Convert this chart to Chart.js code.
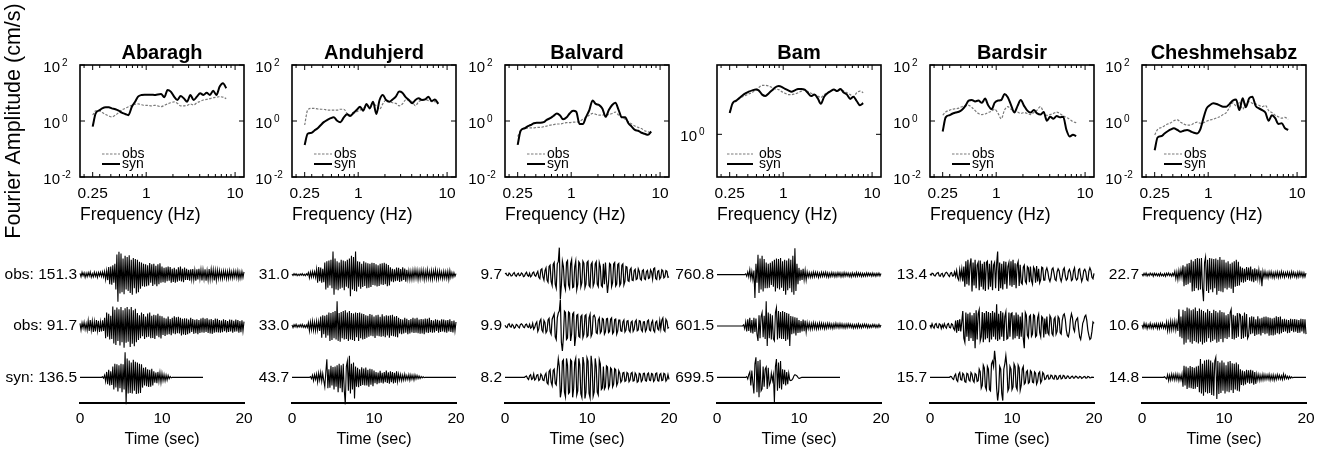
<!DOCTYPE html>
<html>
<head>
<meta charset="utf-8">
<title>Fourier spectra and seismograms</title>
<script src="https://cdn.jsdelivr.net/npm/chart.js@4.4.1/dist/chart.umd.min.js"></script>
<style>
html, body { margin: 0; padding: 0; background: #fff; }
#fig { position: relative; width: 1323px; height: 452px; overflow: hidden; background: #fff; }
#fig canvas { position: absolute; }
</style>
</head>
<body>
<div id="fig"></div>
<script>
// ---------------- DATA ----------------
const stations = ['Abaragh', 'Anduhjerd', 'Balvard', 'Bam', 'Bardsir', 'Cheshmehsabz'];

// Fourier spectra, frequency (Hz) and amplitude (cm/s)
const freqHz = [0.25,0.27,0.30,0.32,0.35,0.38,0.41,0.45,0.49,0.53,0.58,0.63,0.69,0.75,0.81,0.89,0.96,1.05,1.14,1.24,1.35,1.47,1.60,1.74,1.89,2.06,2.24,2.44,2.65,2.89,3.14,3.42,3.72,4.05,4.40,4.79,5.21,5.67,6.17,6.71,7.31,7.95];
const freqTickLabels = [0.25, 1, 10];
const freqMinorTicks = [0.2,0.3,0.4,0.5,0.6,0.7,0.8,0.9,2,3,4,5,6,7,8,9];
const ampTicks = [0.01, 1, 100];
const ampTicksBam = [1];

const synSpecAbaragh = [0.63,1.86,2.45,2.82,3.09,3.09,2.82,2.63,2.34,2.0,1.78,1.62,3.24,4.90,7.41,8.51,8.71,8.71,8.71,8.51,8.91,9.12,7.08,12.9,11.2,7.41,5.62,7.76,6.46,4.90,8.51,5.62,7.41,9.77,8.51,10.2,8.51,12.0,8.51,17.0,22.4,14.8];
const obsSpecAbaragh = [1.62,2.29,2.29,2.0,1.70,1.51,1.41,1.62,2.0,2.45,2.82,3.24,3.63,3.98,4.07,3.80,3.63,3.63,3.47,3.63,3.47,3.24,3.63,4.07,4.47,4.79,4.27,3.47,3.47,3.63,4.07,3.72,4.47,5.01,5.62,5.89,6.31,6.76,7.08,7.41,7.08,6.31];
const synSpecAnduhjerd = [0.14,0.35,0.38,0.45,0.55,0.72,0.91,1.10,1.26,1.35,1.02,0.91,1.35,1.74,1.51,2.0,2.45,3.24,2.34,4.07,2.82,4.90,1.78,5.62,8.51,5.62,4.90,5.89,7.41,11.2,10.2,7.08,5.62,4.27,5.62,6.46,5.62,5.89,7.41,5.13,5.89,4.07];
const obsSpecAnduhjerd = [0.72,2.45,2.82,2.82,2.69,2.63,2.63,2.45,2.45,2.45,2.45,2.63,2.63,1.86,1.62,1.86,2.14,2.45,2.82,3.24,3.47,4.07,3.47,2.63,4.07,5.62,4.90,4.47,4.27,3.47,4.07,5.62,5.37,4.90,3.47,4.90,5.62,5.89,5.37,4.90,4.90,4.47];
const synSpecBalvard = [0.14,0.45,0.55,0.63,0.72,0.83,0.87,0.87,0.91,1.10,1.26,1.51,1.86,1.58,1.15,1.35,1.86,2.34,2.14,0.78,0.78,1.41,2.45,5.37,4.07,3.72,2.82,1.41,2.45,3.72,4.47,2.45,1.35,1.35,0.83,0.63,0.48,0.45,0.38,0.35,0.32,0.42];
const obsSpecBalvard = [0.28,0.45,0.54,0.56,0.57,0.57,0.59,0.59,0.63,0.66,0.71,0.74,0.78,0.78,0.83,0.87,0.87,0.91,0.91,0.98,1.15,1.35,1.62,1.86,1.74,1.62,1.62,1.74,1.70,1.86,2.09,1.62,1.35,1.15,0.95,0.78,0.66,0.59,0.54,0.45,0.41,0.38];
const synSpecBam = [2.0,2.75,3.02,3.24,3.55,3.80,4.0,4.17,4.27,4.17,3.63,3.47,3.80,4.17,4.57,4.79,4.68,4.37,4.17,4.0,4.17,4.37,4.37,4.27,3.85,3.47,3.63,3.24,2.69,3.39,3.80,4.07,4.27,4.07,4.37,3.89,3.63,3.16,3.39,2.95,2.57,2.75];
const obsSpecBam = [2.04,2.69,2.95,3.16,3.39,3.55,3.72,3.89,4.27,4.57,4.90,4.90,4.79,4.57,4.37,4.27,4.0,3.80,3.63,3.63,3.72,3.85,4.07,4.27,4.0,3.80,3.63,3.47,3.31,3.63,3.85,4.07,4.27,4.07,4.27,4.07,3.85,3.63,3.39,3.85,4.07,3.85];
const synSpecBardsir = [0.42,1.35,1.62,1.82,2.0,2.14,2.45,3.47,5.37,5.62,5.01,5.37,4.47,6.31,3.72,2.63,4.47,5.37,5.62,9.12,7.08,3.72,2.0,3.47,5.62,3.47,2.34,2.0,2.45,1.86,1.70,2.09,1.02,1.41,1.20,1.51,1.35,1.41,0.48,0.28,0.32,0.29];
const obsSpecBardsir = [1.62,2.09,2.45,2.63,2.75,2.88,3.24,3.47,3.63,3.09,2.34,1.86,1.70,1.78,2.0,2.24,2.63,1.86,1.20,2.45,3.24,2.63,2.24,2.09,1.86,2.0,1.86,1.70,2.0,2.45,3.24,2.09,1.58,1.70,1.86,2.09,1.86,1.51,1.35,1.15,0.95,0.87];
const synSpecCheshmehsabz = [0.09,0.26,0.29,0.35,0.43,0.50,0.55,0.48,0.41,0.45,0.48,0.43,0.38,0.36,0.48,1.35,2.82,3.72,4.27,4.07,3.63,3.24,3.24,4.07,5.37,5.89,2.45,6.46,3.09,6.46,7.41,3.47,2.82,2.45,2.0,1.02,1.62,1.26,0.78,0.83,0.55,0.48];
const obsSpecCheshmehsabz = [0.32,0.50,0.59,0.66,0.78,0.87,1.02,1.10,0.91,0.78,0.71,0.71,0.83,0.91,0.83,0.87,0.98,1.10,1.15,1.29,1.41,1.70,2.0,3.09,4.47,3.47,4.79,2.63,4.07,4.90,4.27,4.07,3.63,3.24,3.63,2.34,2.0,1.62,1.41,1.26,1.35,1.15];

// Seismograms: sample times (s, every 0.125 s) and amplitude normalised to the trace peak (% of peak)
const timeSec = [0,0.125,0.25,0.375,0.5,0.625,0.75,0.875,1,1.125,1.25,1.375,1.5,1.625,1.75,1.875,2,2.125,2.25,2.375,2.5,2.625,2.75,2.875,3,3.125,3.25,3.375,3.5,3.625,3.75,3.875,4,4.125,4.25,4.375,4.5,4.625,4.75,4.875,5,5.125,5.25,5.375,5.5,5.625,5.75,5.875,6,6.125,6.25,6.375,6.5,6.625,6.75,6.875,7,7.125,7.25,7.375,7.5,7.625,7.75,7.875,8,8.125,8.25,8.375,8.5,8.625,8.75,8.875,9,9.125,9.25,9.375,9.5,9.625,9.75,9.875,10,10.125,10.25,10.375,10.5,10.625,10.75,10.875,11,11.125,11.25,11.375,11.5,11.625,11.75,11.875,12,12.125,12.25,12.375,12.5,12.625,12.75,12.875,13,13.125,13.25,13.375,13.5,13.625,13.75,13.875,14,14.125,14.25,14.375,14.5,14.625,14.75,14.875,15,15.125,15.25,15.375,15.5,15.625,15.75,15.875,16,16.125,16.25,16.375,16.5,16.625,16.75,16.875,17,17.125,17.25,17.375,17.5,17.625,17.75,17.875,18,18.125,18.25,18.375,18.5,18.625,18.75,18.875,19,19.125,19.25,19.375,19.5,19.625,19.75,19.875,20];
const timeTicks = [0, 10, 20];

const peakObs1 = [151.3, 31.0, 9.7, 760.8, 13.4, 22.7];
const peakObs2 = [91.7, 33.0, 9.9, 601.5, 10.0, 10.6];
const peakSyn  = [136.5, 43.7, 8.2, 699.5, 15.7, 14.8];

const obs1Abaragh = [
5,-8,9,-4,7,-10,6,-7, 8,-5,10,-9,4,-8,9,-6, 7,-10,8,-5,9,-7,10,-8,
12,-18,15,-20,28,-35,30,-37, 35,-30,40,-55,75,-100,85,-70, 78,-65,60,-72,70,-55,65,-60,
72,-68,55,-74,62,-50,58,-70, 55,-65,48,-52,45,-43,40,-45, 38,-43,35,-40,43,-30,38,-42,
40,-36,33,-43,38,-35,42,-30, 30,-28,25,-30,27,-24,30,-22, 28,-30,22,-27,25,-30,20,-26,
27,-22,30,-25,22,-28,26,-20, 22,-20,18,-22,20,-17,21,-19, 16,-22,20,-18,22,-15,19,-21,
18,-16,20,-22,15,-19,21,-17, 20,-15,18,-21,16,-20,17,-14, 15,-14,12,-15,14,-11,13,-15,
12,-14,15,-12,11,-13,14,-10, 13,-12,14,-15,10,-13,12,-11, 10];
const obs2Abaragh = [
10,-15,12,-8,14,-12,9,-15, 20,-18,22,-15,18,-22,16,-20, 22,-17,19,-22,15,-20,21,-18,
30,-45,50,-40,45,-50,38,-48, 72,-65,60,-70,68,-55,62,-72, 70,-60,58,-80,66,-62,70,-58,
62,-78,70,-66,58,-75,64,-60, 48,-52,40,-45,50,-38,44,-48, 35,-42,46,-40,50,-45,38,-44,
42,-48,40,-36,45,-42,38,-46, 36,-33,30,-37,28,-32,35,-30, 26,-34,30,-28,36,-30,32,-27,
34,-28,30,-35,27,-31,29,-33, 28,-30,24,-27,30,-22,26,-29, 23,-27,25,-30,22,-26,28,-24,
30,-25,27,-22,29,-26,24,-28, 26,-29,22,-25,28,-23,27,-24, 22,-25,20,-23,25,-19,22,-24,
18,-22,24,-20,23,-25,19,-21, 24,-20,22,-25,18,-23,21,-19, 16];
const synAbaragh = [
0,0,0,0,0,0,0,0, 0,0,0,0,0,0,0,0, 0,0,0,0,0,0,2,-3,
8,-15,20,-25,28,-30,22,-28, 40,-45,50,-38,48,-52,45,-40, 50,-55,48,-45,93,-100,70,-60,
62,-58,55,-60,65,-50,58,-62, 55,-60,50,-58,48,-38,35,-30, 37,-33,30,-36,28,-35,32,-30,
22,-20,18,-22,20,-15,17,-19, 15,-12,10,-13,8,-10,7,-5, 3,-2,0,0,0,0,0,0,
0,0,0,0,0,0,0,0, 0,0,0,0,0,0,0,0, 0,0,0,0,0,0,0,0, 0];

const obs1Anduhjerd = [
2,-3,4,-2,3,-4,2,-3, 3,-2,4,-3,2,-4,3,-2, 8,-12,10,-9,12,-8,11,-10,
20,-30,28,-24,26,-30,22,-28, 45,-55,50,-48,52,-40,55,-50, 86,-74,60,-55,50,-58,45,-52,
55,-48,52,-58,50,-45,55,-50, 60,-80,70,-55,65,-60,86,-62, 50,-45,48,-52,40,-46,50,-42,
45,-50,42,-48,40,-46,44,-38, 43,-40,38,-44,35,-42,40,-36, 42,-38,44,-35,40,-43,36,-40,
27,-25,22,-28,20,-24,26,-22, 25,-27,21,-24,27,-20,23,-26, 18,-16,14,-18,12,-17,16,-15,
18,-13,16,-18,14,-15,17,-12, 16,-18,13,-15,18,-14,12,-16, 15,-17,14,-12,18,-16,13,-15,
14,-12,10,-15,12,-13,11,-14, 12,-18,15,-10,8,-9,7,-6, 4];
const obs2Anduhjerd = [
4,-6,5,-3,6,-5,3,-4, 5,-4,6,-5,3,-6,4,-5, 12,-18,15,-14,18,-16,14,-17,
18,-15,16,-18,35,-43,40,-30, 38,-43,42,-35,50,-55,48,-52, 52,-45,55,-50,92,-55,48,-58,
52,-45,55,-50,58,-48,50,-55, 55,-50,48,-52,46,-55,50,-42, 48,-55,50,-45,46,-50,44,-48,
40,-43,38,-40,44,-36,42,-38, 35,-44,40,-36,42,-38,34,-40, 43,-38,36,-42,40,-35,38,-43,
40,-36,42,-38,35,-40,37,-42, 30,-28,26,-30,24,-28,30,-25, 27,-30,22,-28,26,-24,30,-26,
28,-25,30,-27,24,-29,26,-28, 25,-30,28,-24,27,-26,30,-23, 22,-25,20,-24,25,-18,23,-25,
20,-22,25,-20,24,-23,21,-25, 22,-20,25,-22,18,-24,20,-18, 15];
const synAnduhjerd = [
0,0,0,0,0,0,0,0, 0,0,0,0,0,0,0,0, 0,0,3,-5,8,-12,10,-8,
12,-18,15,-10,18,-15,14,-12, -35,20,67,-40,30,-38,43,-30, 38,-45,40,-35,45,-55,50,-40,
45,-55,50,-48,-100,40,60,-50, 80,-60,50,-45,55,-78,40,-35, 35,-37,30,-32,37,-28,33,-30,
36,-30,28,-35,32,-27,30,-33, 25,-22,20,-25,18,-22,24,-20, 17,-23,20,-18,25,-21,19,-24,
22,-18,20,-23,17,-20,22,-16, 12,-10,11,-12,8,-10,12,-9, 7,-8,10,-11,9,-7,8,-10,
9,-6,7,-5,5,-4,3,-2, 2,-1,0,0,0,0,0,0, 0,0,0,0,0,0,0,0,
0,0,0,0,0,0,0,0, 0,0,0,0,0,0,0,0, 0];

const obs1Balvard = [
3,5,-2,-4,6,2,-5,-3, 4,8,-3,-6,2,5,-4,-2, 6,3,-7,-5,4,9,-3,-6,
5,-8,-4,7,10,-3,-6,4, 12,-10,-15,18,22,-8,-20,15, 25,-20,-28,30,35,-25,-40,38,
45,-35,-50,40,48,100,-90,-40, 50,30,-40,-55,45,52,-38,-50, 40,55,-48,-45,30,50,-55,-35,
48,42,-45,-30,50,42,-48,-35, 45,50,-40,-46,38,45,-42,-30, 40,48,-35,-44,45,30,-40,-45,
40,-35,45,-20,-68,-30,42,38, -44,-30,40,45,-42,-35,38,42, -40,-32,35,40,-38,-25,30,28,
-22,-25,18,24,-20,-22,15,20, -18,-15,22,12,-16,-20,14,18, -15,-18,12,16,-14,-12,18,10,
-16,22,25,-14,-18,12,15,-16, -10,18,14,-12,-8,15,12,-10, -8];
const obs2Balvard = [
3,-4,-6,5,8,-2,-4,6, 2,-8,-5,6,3,-3,-7,5, 8,4,-4,-6,5,7,-3,-5,
6,-8,-4,10,-12,-5,8,15, -20,-10,18,25,-15,-22,20,12, -25,-18,22,28,-20,-30,25,35,
45,-40,-50,30,48,55,98,-60, -92,-40,55,50,-50,-45,52,48, -55,-30,45,50,-74,-40,40,43,
-38,-42,35,40,-43,-30,38,42, -40,-35,30,43,-38,-28,35,40, 30,-25,-28,22,30,-26,-20,28,
25,-30,-22,26,28,-24,-20,25, 30,-28,-22,24,26,-30,-18,22, 22,-18,-20,15,22,-22,-15,18,
20,-16,-22,14,18,-20,-12,16, 22,-18,-15,20,18,-14,-20,15, 16,-20,-12,18,22,-15,-18,12,
20,-16,-22,14,18,-10,-15,20, -10,22,30,-15,-20,25,18,-8, -5];
const synBalvard = [
0,0,0,0,0,0,0,0, 0,0,0,0,0,0,0,0, 0,0,0,0,3,5,-4,-8,
6,10,-8,-5,12,-10,-6,8, 10,-12,-8,12,6,-10,-12,8, 15,-20,-25,22,28,-18,-30,25,
30,-22,-28,25,68,40,-74,-50, 60,65,-55,-72,70,45,-60,-55, 65,60,-74,-40,55,70,-65,-50,
70,45,-60,-74,75,50,-78,-55, 72,60,-60,-76,80,45,-70,-55, 70,40,-55,-65,65,50,-45,-40,
40,-43,-35,42,38,-40,-30,35, 30,-35,-25,32,28,-30,-20,25, 15,-18,-12,16,18,-15,-12,18,
14,-16,-10,15,18,-14,-12,16, 10,-18,-14,15,12,-16,-10,14, 15,-12,-14,12,16,-10,-12,14,
12,-15,-10,14,16,-12,-14,10, 14,-12,-10,15,12,-14,-8,10, -8];

const obs1Bam = [
0,0,0,0,0,0,0,0, 0,0,0,0,0,0,0,0, 0,0,0,0,0,0,0,0,
0,0,0,0,3,-6,10,-8, 18,-15,12,-18,15,-86,40,-30, 74,-68,60,-55,70,-62,58,-50,
45,-50,40,-48,44,-38,50,-45, 55,-62,60,-50,58,-55,62,-48, 50,-60,55,-74,52,-58,60,-50,
55,-65,70,-74,98,-60,40,-35, 25,-22,18,-20,22,-18,16,-20, 10,-9,8,-10,7,-9,10,-8,
9,-7,8,-10,6,-8,9,-7, 8,-6,9,-8,7,-9,6,-7, 8,-6,7,-8,6,-7,8,-5,
7,-8,6,-7,8,-6,7,-5, 6,-7,5,-8,7,-6,5,-7, 8,-6,7,-5,6,-7,5,-6,
5,-6,7,-5,6,-4,5,-6, 6,-5,4,-6,5,-4,6,-5, 4];
const obs2Bam = [
0,0,0,0,0,0,0,0, 0,0,0,0,0,0,0,0, 0,0,0,0,0,0,0,0,
0,0,4,-10,15,-20,25,-18, 30,-25,22,-28,30,-22,28,-30, -55,40,-45,35,50,-42,38,-48,
92,-74,50,-45,45,-50,40,-48, -55,50,68,-50,55,-45,52,-48, 55,-48,52,-55,48,-50,45,-74,
37,-30,35,-28,32,-35,30,-26, 22,-25,18,-20,24,-19,20,-22, 12,-10,11,-12,9,-11,12,-9,
10,-11,8,-10,11,-9,10,-8, 9,-10,8,-9,10,-7,9,-8, 7,-9,8,-7,10,-6,8,-7,
9,-6,8,-7,6,-8,7,-6, 8,-5,7,-6,6,-8,5,-7, 6,-7,8,-6,5,-7,6,-5,
7,-5,6,-7,5,-6,4,-5, 6,-4,5,-6,4,-5,6,-4, 4];
const synBam = [
0,0,0,0,0,0,0,0, 0,0,0,0,0,0,0,0, 0,0,0,0,0,0,0,0,
0,0,0,0,0,3,-6,10, 20,-30,25,-20,-60,50,74,-55, 60,-74,65,-50,-43,40,-35,30,
38,-43,35,-30,-20,15,-12,10, -92,40,68,-50,55,-40,60,-45, 30,-25,28,-30,20,-25,15,-10,
-12,-10,-5,5,10,8,5,0, -4,-3,-1,0,0,0,0,0, 0,0,0,0,0,0,0,0,
0,0,0,0,0,0,0,0, 0,0,0,0,0,0,0,0, 0,0,0,0,0,0,0,0, 0];

const obs1Bardsir = [
3,-2,5,4,-3,-5,2,6, 8,-4,-6,3,5,-8,-4,6, 9,5,-3,-7,6,8,-5,-4,
10,-6,15,-12,-20,18,-12,20, -25,30,-45,50,-35,55,-40,35, 60,-62,45,-40,55,-50,35,45,
-58,52,-45,40,-55,48,-60,45, 50,-55,40,-45,52,-58,35,45, -50,40,86,-60,45,-50,40,-55,
50,-35,48,-52,30,45,-40,50, -45,55,-38,42,-50,35,48,-42, 37,-30,-35,28,35,-25,-32,30,
25,-28,30,-22,-35,28,20,-30, 32,-25,22,-30,-18,28,25,-20, -20,15,25,10,-15,-25,-10,20,
25,5,-18,-22,10,22,15,-12, -25,-8,18,25,-5,-20,-15,12, 20,8,-22,-18,15,25,-10,-20,
-15,18,22,-5,-25,-12,15,20, 10,-18,-22,12,25,15,-10,-15, 5];
const obs2Bardsir = [
4,-6,8,-3,-8,6,9,-5, -7,8,5,-9,4,-6,8,-3, -8,6,9,-5,-7,8,5,-9,
-15,20,-25,22,-18,25,-20,15, 55,-45,-60,50,-40,45,-55,50, -45,40,-55,48,-82,58,-50,45,
60,-55,-40,52,-60,48,-50,55, -45,52,-60,48,-50,55,-40,50, -50,80,-55,45,-50,55,-40,50,
-55,35,52,-48,-45,50,-40,45, 48,-50,40,-45,50,-38,42,-48, 35,-40,50,-45,-82,50,40,-35,
-43,35,40,-38,-30,42,38,-40, -35,30,43,-25,-40,35,30,-42, 28,-30,35,-25,-32,38,30,-28,
-35,25,32,-30,-20,35,28,-25, -30,20,40,45,25,-15,-35,-40, -20,25,45,30,-10,-20,15,25,
30,-10,-40,-50,-25,10,20,35, 40,20,-15,-35,-50,-45,-20,15, 10];
const synBardsir = [
0,0,0,0,0,0,0,0, 0,0,0,0,0,0,0,0, 0,0,0,0,3,2,-5,-8,
6,12,-10,-15,12,18,-8,-10, 15,10,-16,-18,15,12,-10,-14, 18,12,-12,-18,14,10,-15,-12,
30,20,-40,-30,45,35,-35,-45, 40,30,-45,-50,50,60,40,98, 60,-40,-86,-50,40,30,-60,-86,
30,50,80,40,-50,-40,40,30, -45,-35,50,40,-35,-45,45,35, -48,-30,30,40,-25,-20,20,25,
-22,-18,25,20,-18,-20,20,15, -25,-15,15,20,-20,-12,18,12, -8,-6,6,8,-7,-5,8,6,
-5,-7,7,5,-8,-6,5,7, -6,-4,7,5,-4,-3,5,4, -4,-3,3,4,-3,-2,4,3,
-2,-3,3,2,-4,-2,2,3, -3,-2,3,2,-2,-1,1,0, 0];

const obs1Cheshmehsabz = [
2,-4,5,-3,6,-5,3,-4, 6,-2,4,-6,5,-3,4,-5, 3,-5,6,-4,2,-5,4,-6,
5,-3,6,-4,3,-6,5,-4, 12,-15,10,-18,15,-12,18,-10, 35,-43,30,-38,40,-35,43,-30,
55,-62,50,-60,58,-50,62,-58, 60,-55,62,-50,-98,45,65,-60, 55,-68,62,-55,60,-65,58,-50,
60,-74,55,-60,65,-62,55,-65, 55,-50,45,-55,50,-48,40,-52, 45,-68,50,-45,55,-42,48,-40,
30,-28,25,-30,22,-26,28,-20, 26,-22,30,-25,20,-28,24,-22, 20,-15,18,-20,15,-43,12,-10,
12,-10,8,-12,10,-8,11,-10, 7,-12,9,-8,10,-11,8,-9, 12,-7,9,-10,8,-6,10,-9,
8,-10,11,-7,9,-8,6,-10, 9,-8,10,-6,8,-9,7,-8, 6];
const obs2Cheshmehsabz = [
4,-8,10,-6,8,-10,5,-7, 10,-8,6,-9,8,-5,9,-10, 7,-10,9,-6,10,-8,5,-9,
15,-18,12,-16,18,-14,16,-12, 18,-15,14,-18,62,-40,35,-45, 60,-68,55,-62,68,-50,65,-60,
58,-66,62,-55,68,-60,55,-65, 65,-58,60,-68,55,-62,50,-58, 62,-45,55,-60,48,-55,60,-50,
55,-62,50,-58,58,-48,52,-60, 50,-45,40,-48,44,-42,50,62, -48,42,-50,38,-44,48,-40,45,
42,-48,38,-45,50,-40,44,-46, -37,32,-30,36,-28,34,-37,25, -32,36,-30,28,-35,30,-26,34,
-30,35,-28,32,-36,30,-34,28, -35,30,-32,36,-27,33,-30,35, -27,25,-22,27,-20,24,-27,22,
-25,27,-18,25,-23,26,-21,24, -26,22,-25,27,-20,26,-28,25, -30];
const synCheshmehsabz = [
0,0,0,0,0,0,0,0, 0,0,0,0,0,0,0,0, 0,0,0,0,0,0,2,-2,
-6,10,-12,8,-10,12,-8,10, -10,12,-9,11,-12,8,-10,12, -35,43,-30,40,-43,35,-38,42,
-40,38,-43,35,-42,40,-36,43, -55,68,-60,50,-68,62,-55,65, -60,66,-58,62,-65,55,-68,60,
74,-80,60,-62,55,-58,62,-50, 55,-60,45,-52,58,-55,60,-48, 52,-58,50,-45,55,-50,48,-52,
30,-28,25,-30,22,-26,28,-20, 26,-24,28,-22,25,-27,20,-24, 12,-10,11,-12,8,-10,12,-9,
10,-8,9,-7,11,-10,8,-9, 9,-11,7,-8,10,-6,8,-7, 6,-8,12,-6,8,-5,4,-6,
4,-3,2,-2,0,0,0,0, 0,0,0,0,0,0,0,0, 0];

// ---------------- TABLES BUILT FROM THE DATA ----------------
const specSyn = [synSpecAbaragh, synSpecAnduhjerd, synSpecBalvard, synSpecBam, synSpecBardsir, synSpecCheshmehsabz];
const specObs = [obsSpecAbaragh, obsSpecAnduhjerd, obsSpecBalvard, obsSpecBam, obsSpecBardsir, obsSpecCheshmehsabz];
const traceObs1 = [obs1Abaragh, obs1Anduhjerd, obs1Balvard, obs1Bam, obs1Bardsir, obs1Cheshmehsabz];
const traceObs2 = [obs2Abaragh, obs2Anduhjerd, obs2Balvard, obs2Bam, obs2Bardsir, obs2Cheshmehsabz];
const traceSyn  = [synAbaragh, synAnduhjerd, synBalvard, synBam, synBardsir, synCheshmehsabz];

// ---------------- LAYOUT / STYLE ----------------
const FONT = '"Liberation Sans", Arial, Helvetica, sans-serif';
Chart.defaults.font.family = FONT;
Chart.defaults.color = '#000';
const boxLeft = [80, 292, 505, 717, 930, 1142];
const BOX_W = 164;
const specYMin = [0.01, 0.01, 0.01, 0.25, 0.01, 0.01];
const specYMax = [100, 100, 100, 9.5, 100, 100];
const legendLine = [[22, 40], [22, 40], [22, 40], [10, 36], [22, 40], [22, 40]];
const traceWidth = [1.1, 1.1, 1.2, 1.1, 1.2, 1.1];
const fig = document.getElementById('fig');

const specDecor = {
  id: 'specDecor',
  afterDraw(chart, args, o) {
    const {ctx, chartArea: a} = chart;
    const xs = chart.scales.x, ys = chart.scales.y;
    ctx.save();
    ctx.strokeStyle = '#000';
    ctx.lineWidth = 1;
    const vt = (px, len) => {
      ctx.beginPath();
      ctx.moveTo(px, a.bottom); ctx.lineTo(px, a.bottom - len);
      ctx.moveTo(px, a.top); ctx.lineTo(px, a.top + len);
      ctx.stroke();
    };
    freqMinorTicks.forEach(v => vt(xs.getPixelForValue(v), 3));
    freqTickLabels.forEach(v => vt(xs.getPixelForValue(v), 5));
    ys.ticks.forEach(t => {
      const py = ys.getPixelForValue(t.value);
      ctx.beginPath();
      ctx.moveTo(a.left, py); ctx.lineTo(a.left + 5, py);
      ctx.moveTo(a.right, py); ctx.lineTo(a.right - 5, py);
      ctx.stroke();
    });
    ctx.lineWidth = 1.6;
    ctx.strokeRect(a.left, a.top, a.right - a.left, a.bottom - a.top);
    // exponents of the 10^n labels
    ctx.fillStyle = '#000';
    ctx.font = '10px ' + FONT;
    ctx.textAlign = 'left';
    ctx.textBaseline = 'middle';
    ys.ticks.forEach(t => {
      const py = ys.getPixelForValue(t.value);
      ctx.fillText(String(Math.round(Math.log10(t.value))), a.left - 18, py - 2);
    });
    // legend inside the box
    const ds = chart.data.datasets;
    const rows = [[ds[1], 89], [ds[0], 99]];
    ctx.font = '14px ' + FONT;
    rows.forEach(([d, dy]) => {
      const yy = a.top + dy;
      ctx.save();
      ctx.strokeStyle = d.borderColor;
      ctx.lineWidth = d.borderWidth;
      ctx.setLineDash(d.borderDash || []);
      ctx.beginPath();
      ctx.moveTo(a.left + o.l0, yy); ctx.lineTo(a.left + o.l1, yy);
      ctx.stroke();
      ctx.restore();
      ctx.fillText(d.label, a.left + 42, yy);
    });
    ctx.restore();
  }
};

function addCanvas(left, top, w, h) {
  const cv = document.createElement('canvas');
  cv.width = w; cv.height = h;
  cv.style.left = left + 'px'; cv.style.top = top + 'px';
  cv.style.width = w + 'px'; cv.style.height = h + 'px';
  fig.appendChild(cv);
  return cv;
}

function specChart(c) {
  const W = 80 + BOX_W + 20, H = 252;
  const cv = addCanvas(boxLeft[c] - 80, 0, W, H);
  const pts = arr => freqHz.map((f, i) => ({x: f, y: arr[i]}));
  const yTicks = c === 3 ? ampTicksBam : ampTicks;
  new Chart(cv, {
    type: 'line',
    data: {
      datasets: [
        {label: 'syn', data: pts(specSyn[c]), borderColor: '#000', borderWidth: 2, pointRadius: 0, cubicInterpolationMode: 'monotone'},
        {label: 'obs', data: pts(specObs[c]), borderColor: '#7a7a7a', borderWidth: 1.2, borderDash: [2.5, 1.5], pointRadius: 0, cubicInterpolationMode: 'monotone'}
      ]
    },
    options: {
      responsive: false, animation: false, events: [],
      layout: {padding: {left: 0, right: 20, top: 0, bottom: 22}},
      plugins: {
        legend: {display: false},
        tooltip: {enabled: false},
        title: {display: true, text: stations[c], fullSize: false, color: '#000',
                font: {size: 20, weight: 'bold'}, padding: {top: 41, bottom: 0}},
        specDecor: {l0: legendLine[c][0], l1: legendLine[c][1]}
      },
      scales: {
        x: {
          type: 'logarithmic', min: 0.18, max: 12.6,
          afterBuildTicks: s => { s.ticks = freqTickLabels.map(v => ({value: v})); },
          afterFit: s => { s.height = 53; },
          ticks: {callback: v => String(v), font: {size: 15.5}, color: '#000', padding: 7, maxRotation: 0, autoSkip: false},
          grid: {display: false, drawTicks: false},
          border: {display: false},
          title: {display: true, text: 'Frequency (Hz)', align: 'start', color: '#000', font: {size: 17.5}, padding: {top: 0, bottom: 4.5}}
        },
        y: {
          type: 'logarithmic', min: specYMin[c], max: specYMax[c],
          afterBuildTicks: s => { s.ticks = yTicks.map(v => ({value: v})); },
          afterFit: s => { s.width = 80; },
          ticks: {callback: () => '10', font: {size: 15}, color: '#000', padding: 20, labelOffset: 3, autoSkip: false},
          grid: {display: false, drawTicks: false},
          border: {display: false},
          title: {display: c === 0, text: 'Fourier Amplitude (cm/s)', color: '#000', font: {size: 21.5}, padding: {top: 1, bottom: 0}}
        }
      }
    },
    plugins: [specDecor]
  });
}

function traceAxis(label) {
  return {
    type: 'linear', axis: 'y', position: 'left', stack: 'traces', min: -95, max: 95,
    afterBuildTicks: s => { s.ticks = [{value: 0}]; },
    afterFit: s => { s.width = 82; },
    ticks: {callback: () => label, font: {size: 15.5}, color: '#000', padding: 3, autoSkip: false},
    grid: {display: false, drawTicks: false},
    border: {display: false}
  };
}

function seisChart(c) {
  const W = 82 + BOX_W + 20, H = 222;
  const cv = addCanvas(boxLeft[c] - 82, 230, W, H);
  const pre = c === 0;
  const lab1 = (pre ? 'obs: ' : '') + peakObs1[c].toFixed(1);
  const lab2 = (pre ? 'obs: ' : '') + peakObs2[c].toFixed(1);
  const lab3 = (pre ? 'syn: ' : '') + peakSyn[c].toFixed(1);
  const mk = (arr, id) => ({
    data: arr.map((v, i) => ({x: timeSec[i], y: v})), yAxisID: id,
    borderColor: '#000', borderWidth: traceWidth[c], pointRadius: 0, tension: 0, clip: false
  });
  new Chart(cv, {
    type: 'line',
    data: {datasets: [mk(traceObs1[c], 'tObs1'), mk(traceObs2[c], 'tObs2'), mk(traceSyn[c], 'tSyn')]},
    options: {
      responsive: false, animation: false, events: [],
      layout: {padding: {left: 0, right: 20, top: 19, bottom: 0}},
      plugins: {legend: {display: false}, tooltip: {enabled: false}},
      scales: {
        x: {
          type: 'linear', min: 0, max: 20,
          afterBuildTicks: s => { s.ticks = timeTicks.map(v => ({value: v})); },
          afterFit: s => { s.height = 49; },
          ticks: {font: {size: 15.5}, color: '#000', padding: 6, maxRotation: 0, autoSkip: false},
          grid: {display: false, drawTicks: false},
          border: {display: true, color: '#000', width: 2},
          title: {display: true, text: 'Time (sec)', color: '#000', font: {size: 16}, padding: {top: 0, bottom: 2.4}}
        },
        tSyn: traceAxis(lab3),
        tObs2: traceAxis(lab2),
        tObs1: traceAxis(lab1)
      }
    }
  });
}

for (let c = 0; c < stations.length; c++) {
  specChart(c);
  seisChart(c);
}
</script>
</body>
</html>
